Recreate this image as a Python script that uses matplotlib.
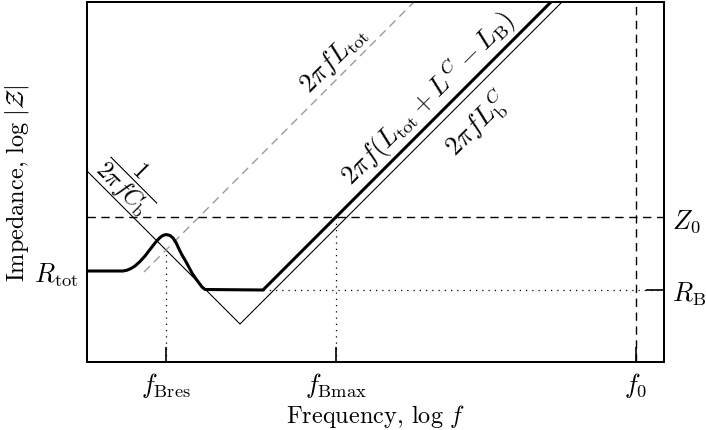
import matplotlib.pyplot as plt

plt.rcParams['mathtext.fontset'] = 'cm'
plt.rcParams['font.family'] = 'cmr10'
plt.rcParams['axes.unicode_minus'] = False

# schematic units: x = log f, y = log |Z| (arbitrary)
x_max, y_max = 577, 360

# thick total impedance curve
z_x = [0, 36, 40, 44, 48, 53, 58, 63, 68, 72, 75, 78, 80, 83, 86, 89, 92, 95, 98,
       101, 105, 108, 112, 115, 118, 176, 464]
z_y = [91, 91, 91.8, 93.5, 96, 100.5, 106, 112.5, 119, 123.5, 126, 127.3, 127.3,
       126.5, 124, 119.5, 113, 107, 102, 96.5, 89, 84.5, 79, 75, 72.5, 72, 360]

# capacitive asymptote 1/(2 pi f C_b) and inductive 2 pi f L_b^C
cap_x = [0, 153, 475]
cap_y = [191, 38, 360]

# 2 pi f L_tot asymptote
ltot_x = [57, 327]
ltot_y = [90, 360]

z0 = 145
r_b = 72
r_tot = 91
f_bres = 79
f_bmax = 249
f_0 = 549
f_bres_top = 112

fig = plt.figure(figsize=(7.06, 4.31), dpi=100)
ax = fig.add_axes([87 / 706, 68 / 431, 577 / 706, 360 / 431])

ax.plot(cap_x, cap_y, color='black', lw=0.8)
ax.plot(ltot_x, ltot_y, color='#9a9a9a', lw=1.0, dashes=(6, 4))
ax.plot(z_x, z_y, color='black', lw=2.2, solid_joinstyle='round')

ax.axhline(z0, color='black', lw=1.0, dashes=(6, 4))
ax.axvline(f_0, color='black', lw=1.0, dashes=(6, 4))
ax.plot([176, x_max], [r_b, r_b], color='black', lw=0.9, ls=(0, (1, 4)))
ax.plot([f_bres, f_bres], [0, f_bres_top], color='black', lw=0.9, ls=(0, (1, 4)))
ax.plot([f_bmax, f_bmax], [0, z0], color='black', lw=0.9, ls=(0, (1, 4)))

fs = 19
ax.text(246, 304, r'$2\pi f L_{\rm tot}$', rotation=45, fontsize=fs,
        ha='center', va='center')
ax.text(341, 265, r'$2\pi f(L_{\rm tot}+L^{C} - L_{\rm B})$', rotation=45,
        fontsize=fs, ha='center', va='center')
ax.text(390, 239, r'$2\pi f L_{\rm b}^{C}$', rotation=45, fontsize=fs,
        ha='center', va='center')
ax.text(44, 182, r'$\dfrac{1}{2\pi f C_{\rm b}}$', rotation=-45, fontsize=17,
        ha='center', va='center')

ax.set_xlim(0, x_max)
ax.set_ylim(0, y_max)
ax.set_xticks([f_bres, f_bmax, f_0])
ax.set_xticklabels([r'$f_{\rm Bres}$', r'$f_{\rm Bmax}$', r'$f_0$'], fontsize=fs)
ax.set_yticks([r_tot])
ax.set_yticklabels([r'$R_{\rm tot}$'], fontsize=fs)
ax.tick_params(direction='in', length=11, width=1.2, pad=6)

ax2 = ax.twinx()
ax2.set_ylim(0, y_max)
ax2.set_yticks([z0, r_b])
ax2.set_yticklabels([r'$Z_0$', r'$R_{\rm B}$'], fontsize=fs)
ax2.tick_params(direction='in', length=13, width=1.2, pad=6)
ax2.yaxis.get_major_ticks()[0].tick2line.set_visible(False)

for a in (ax, ax2):
    for s in a.spines.values():
        s.set_linewidth(1.4)

ax.set_xlabel(r'Frequency, $\log\,f$', fontsize=17.5, labelpad=2)
ax.set_ylabel(r'Impedance, $\log\,|\mathcal{Z}|$', fontsize=17.5, labelpad=2)

fig.savefig('out.png', dpi=100)
